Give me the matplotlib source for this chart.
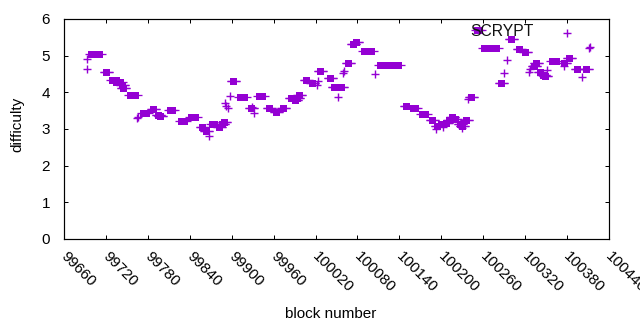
import matplotlib
matplotlib.use('Agg')
import matplotlib.pyplot as plt
import matplotlib.transforms as mtransforms
import numpy as np

plt.rcParams['font.family'] = ['Liberation Sans', 'DejaVu Sans']

# runs of blocks at the same difficulty: first block, last block, difficulty
run_start = [99699, 99720, 99729, 99735, 99743, 99745, 99754, 99773, 99788, 99795,
             99798, 99811, 99827, 99842, 99857, 99863, 99872, 99882, 99886, 99889,
             99902, 99912, 99927, 99939, 99953, 99964, 99974, 99985, 99991, 99994,
             99997, 100006, 100015, 100027, 100040, 100047, 100057, 100067, 100074, 100078,
             100089, 100112, 100149, 100159, 100173, 100186, 100194, 100200, 100206, 100211,
             100215, 100220, 100227, 100229, 100235, 100242, 100261, 100286, 100300, 100311,
             100320, 100332, 100335, 100341, 100345, 100348, 100358, 100375, 100383, 100394,
             100407]
run_end = [99710, 99720, 99734, 99740, 99743, 99745, 99761, 99777, 99788, 99795,
           99798, 99814, 99832, 99848, 99857, 99863, 99874, 99882, 99886, 99889,
           99902, 99918, 99927, 99943, 99954, 99964, 99974, 99985, 99991, 99994,
           99997, 100006, 100015, 100027, 100040, 100047, 100057, 100067, 100074, 100078,
           100100, 100138, 100149, 100163, 100176, 100186, 100194, 100200, 100206, 100211,
           100215, 100220, 100227, 100229, 100235, 100242, 100278, 100286, 100300, 100311,
           100320, 100332, 100335, 100341, 100345, 100348, 100364, 100375, 100383, 100394,
           100407]
run_diff = [5.04, 4.55, 4.33, 4.27, 4.20, 4.12, 3.94, 3.45, 3.54, 3.38,
            3.35, 3.51, 3.23, 3.32, 3.06, 2.94, 3.13, 3.06, 3.15, 3.20,
            4.30, 3.86, 3.56, 3.89, 3.56, 3.46, 3.56, 3.84, 3.78, 3.85,
            3.92, 4.35, 4.26, 4.58, 4.38, 4.14, 4.14, 4.81, 5.32, 5.37,
            5.13, 4.745, 3.63, 3.56, 3.40, 3.245, 3.08, 3.15, 3.17, 3.25,
            3.32, 3.26, 3.14, 3.08, 3.245, 3.88, 5.20, 4.26, 5.45, 5.17,
            5.09, 4.73, 4.79, 4.56, 4.47, 4.44, 4.845, 4.79, 4.93, 4.63,
            4.65]

# single blocks
single_x = [99693, 99693, 99765, 99766, 99867, 99891, 99892, 99894, 99897, 99929,
            99932, 100022, 100024, 100052, 100060, 100061, 100105, 100193, 100203, 100229,
            100238, 100290, 100294, 100326, 100327, 100351, 100376, 100380, 100401, 100412,
            100413]
single_y = [4.91, 4.65, 3.29, 3.34, 2.82, 3.70, 3.63, 3.56, 3.89, 3.60,
            3.43, 4.20, 4.32, 3.88, 4.52, 4.59, 4.49, 2.99, 3.05, 3.03,
            3.81, 4.54, 4.88, 4.56, 4.65, 4.61, 4.73, 5.63, 4.41, 5.20,
            5.24]

xticks = np.arange(99660, 100441, 60)
yticks = [0, 1, 2, 3, 4, 5, 6]

COLOR = '#9400D3'
PX = 72 / 100  # one pixel in points

fig = plt.figure(figsize=(6.4, 3.3), dpi=100)
ax = fig.add_axes([64 / 640, 91 / 330, 545 / 640, 220 / 330])

ax.hlines(run_diff, run_start, run_end, colors=COLOR, linewidth=7 * PX, zorder=3)
ends_x = run_start + run_end
ends_y = run_diff + run_diff
ax.plot(ends_x, ends_y, 's', color=COLOR, ms=7 * PX, mew=0, zorder=3)
ax.plot(ends_x, ends_y, '_', color=COLOR, ms=13 * PX, mew=1.3 * PX, zorder=3)
ax.plot(single_x, single_y, '+', color=COLOR, ms=8 * PX, mew=1.4 * PX, zorder=3)

# key
ax.plot([0.757, 0.762], [0.95, 0.95], 's', color=COLOR, ms=7 * PX, mew=0,
        transform=ax.transAxes, clip_on=False, zorder=3)
ax.plot([0.757, 0.762], [0.95, 0.95], '_', color=COLOR, ms=13 * PX, mew=1.3 * PX,
        transform=ax.transAxes, clip_on=False, zorder=3)
ax.text(0.745, 0.943, 'SCRYPT', transform=ax.transAxes, ha='left', va='center',
        fontsize=11.3, color='#111111', zorder=4)

ax.set_xlim(99660, 100440)
ax.set_ylim(0, 6)
ax.set_xticks(xticks)
ax.set_xticklabels([str(t) for t in xticks], rotation=-45, ha='left', va='top',
                   rotation_mode='anchor', fontsize=11)
ax.set_yticks(yticks)
ax.set_yticklabels([str(t) for t in yticks], fontsize=11)
ax.tick_params(direction='in', top=True, right=True, length=4 * PX, width=1 * PX)
ax.tick_params(axis='x', pad=7)
ax.tick_params(axis='y', pad=10)
offset = mtransforms.ScaledTranslation(4 / 100, 0, fig.dpi_scale_trans)
for lbl in ax.get_xticklabels():
    lbl.set_transform(lbl.get_transform() + offset)

for s in ax.spines.values():
    s.set_linewidth(1.2 * PX)

ax.set_xlabel('block number', fontsize=11)
ax.xaxis.set_label_coords(0.49, -0.31)
ax.set_ylabel('difficulty', fontsize=11)
ax.yaxis.set_label_coords(-0.072, 0.52)

fig.savefig('out.png', dpi=100)
